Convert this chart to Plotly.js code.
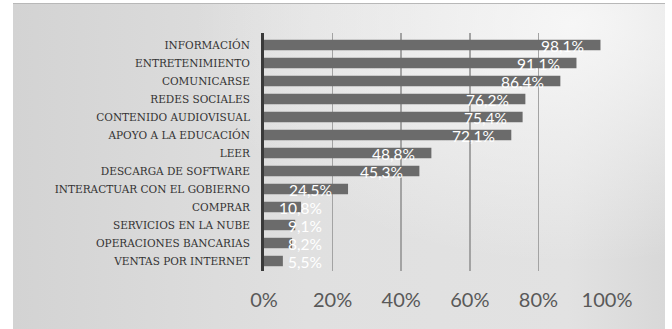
<!DOCTYPE html>
<html>
<head>
<meta charset="utf-8">
<script src="https://cdn.plot.ly/plotly-3.0.1.min.js"></script>
<style>
html,body{margin:0;padding:0;background:#ffffff;width:672px;height:329px;overflow:hidden;}
#bg{position:absolute;left:13px;top:3px;width:652px;height:326px;
background:
 radial-gradient(ellipse 380px 240px at 560px 20px, rgba(250,250,250,0.85) 0%, rgba(250,250,250,0) 100%),
 linear-gradient(to right, #d3d3d3 0%, #e0e0e0 45%, #e2e2e2 85%, #d8d8d8 100%);
border-top:1px solid #b8b8b8;}
#chart{position:absolute;left:0;top:0;width:672px;height:329px;}
</style>
</head>
<body>
<div id="bg"></div>
<div id="chart"></div>
<script>
const categories = ["INFORMACIÓN","ENTRETENIMIENTO","COMUNICARSE","REDES SOCIALES","CONTENIDO AUDIOVISUAL","APOYO A LA EDUCACIÓN","LEER","DESCARGA DE SOFTWARE","INTERACTUAR CON EL GOBIERNO","COMPRAR","SERVICIOS EN LA NUBE","OPERACIONES BANCARIAS","VENTAS POR INTERNET"];
const values = [98.1, 91.1, 86.4, 76.2, 75.4, 72.1, 48.8, 45.3, 24.5, 10.8, 9.1, 8.2, 5.5];
const valueLabels = ["98,1%","91,1%","86,4%","76,2%","75,4%","72,1%","48,8%","45,3%","24,5%","10,8%","9,1%","8,2%","5,5%"];
const xTicks = [0, 20, 40, 60, 80, 100];
const xTickLabels = ["0%","20%","40%","60%","80%","100%"];

const trace = {
  type: 'bar', orientation: 'h',
  x: values, y: categories,
  marker: {color: '#6b6b6b'},
  hoverinfo: 'none'
};

const annotations = values.map((v, i) => ({
  x: Math.max(v, 21.5), y: categories[i], xref: 'x', yref: 'y',
  text: valueLabels[i], showarrow: false, xanchor: 'right', xshift: -14, yshift: -1,
  font: {family: 'Lato, sans-serif', size: 15.5, color: '#ffffff'}
}));

const layout = {
  width: 672, height: 329,
  margin: {l: 264, r: 65, t: 33, b: 58},
  paper_bgcolor: 'rgba(0,0,0,0)', plot_bgcolor: 'rgba(0,0,0,0)',
  bargap: 0.42,
  showlegend: false,
  xaxis: {
    range: [0, 100], tickvals: xTicks, ticktext: xTickLabels,
    showgrid: true, gridcolor: '#a3a3a3', gridwidth: 1.5,
    zeroline: false, showline: false,
    ticks: '', ticklabelstandoff: 15,
    tickfont: {family: 'Lato, sans-serif', size: 20, color: '#595959'},
    fixedrange: true
  },
  yaxis: {
    type: 'category', autorange: 'reversed',
    showline: true, linecolor: '#3a3a3a', linewidth: 3,
    showgrid: false, ticks: '', ticklabelstandoff: 9,
    tickfont: {family: '"DejaVu Serif", serif', size: 10.5, color: '#333333'},
    fixedrange: true
  },
  annotations: annotations
};

Plotly.newPlot('chart', [trace], layout, {displayModeBar: false, staticPlot: true});
</script>
</body>
</html>
